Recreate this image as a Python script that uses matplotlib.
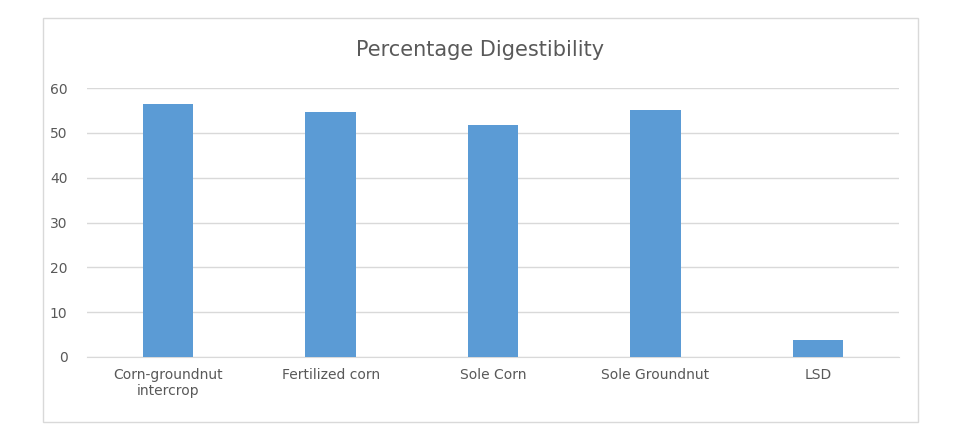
import matplotlib
matplotlib.use("Agg")
import matplotlib.pyplot as plt
from matplotlib.patches import Rectangle

categories = ["Corn-groundnut\nintercrop", "Fertilized corn", "Sole Corn", "Sole Groundnut", "LSD"]
values = [56.4, 54.6, 51.7, 55.1, 3.8]
yticks = [0, 10, 20, 30, 40, 50, 60]

W, H = 962, 443
fig = plt.figure(figsize=(W/100, H/100), dpi=100)
fig.patch.set_facecolor("white")
fig.patches.append(Rectangle((43/W, 1-422/H), (918-43)/W, (422-18)/H, transform=fig.transFigure,
                             fill=False, edgecolor="#d9d9d9", lw=1))
ax = fig.add_axes([87/W, 1-357/H, (899-87)/W, (357-88)/H])
x = range(len(categories))
ax.bar(x, values, width=0.31, color="#5B9BD5", zorder=3)
ax.set_xlim(-0.5, len(categories)-0.5)
ax.set_ylim(0, 60)
ax.set_yticks(yticks)
ax.set_xticks(list(x))
ax.set_xticklabels(categories)
ax.grid(axis="y", color="#d9d9d9", lw=1, zorder=0)
for s in ["top", "right", "left"]:
    ax.spines[s].set_visible(False)
ax.spines["bottom"].set_color("#d9d9d9")
ax.tick_params(length=0, colors="#595959", labelsize=10)
ax.tick_params(axis="y", pad=14)
ax.tick_params(axis="x", pad=8)
fig.text(480/W, 1-50/H, "Percentage Digestibility", ha="center", va="center", fontsize=15, color="#595959")
fig.savefig("out.png", dpi=100)
